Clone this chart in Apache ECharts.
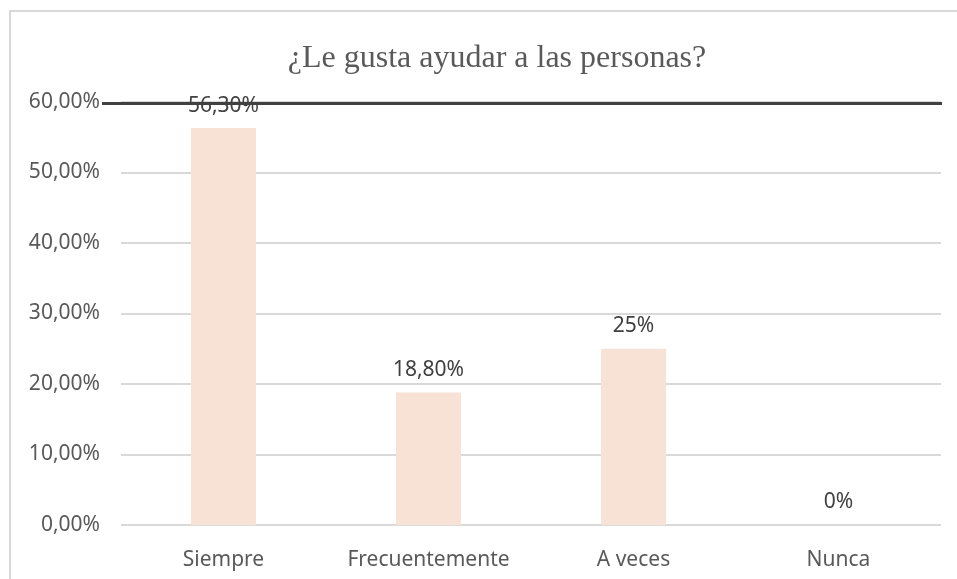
<!DOCTYPE html>
<html>
<head>
<meta charset="utf-8">
<script src="https://cdn.jsdelivr.net/npm/echarts@6/dist/echarts.min.js"></script>
<style>
  html, body { margin: 0; padding: 0; background: #fff; }
  #chart { width: 957px; height: 579px; }
</style>
</head>
<body>
<div id="chart"></div>
<script>
const categories = ["Siempre", "Frecuentemente", "A veces", "Nunca"];
const values = [0.563, 0.188, 0.25, 0];
const yTicks = { min: 0, max: 0.6, interval: 0.1 };

function pct(v) {
  const p = Math.round(v * 1000) / 10;
  if (Number.isInteger(p)) return p + "%";
  return p.toFixed(2).replace(".", ",") + "%";
}

const chart = echarts.init(document.getElementById("chart"), null, {
  renderer: "canvas",
});
const option = {
  animation: false,
  title: {
    text: "¿Le gusta ayudar a las personas?",
    left: 492,
    top: 38,
    textAlign: "center",
    textStyle: {
      fontFamily: "Liberation Serif",
      fontSize: 32,
      fontWeight: "normal",
      color: "#595959",
    },
  },
  grid: {
    left: 121,
    right: 16,
    top: 102,
    bottom: 54,
    containLabel: false,
    outerBoundsMode: "none",
  },
  xAxis: {
    type: "category",
    data: categories,
    axisLine: { show: false },
    axisTick: { show: false },
    axisLabel: {
      interval: 0,
      hideOverlap: false,
      margin: 25,
      fontFamily: "Noto Sans",
      fontSize: 21,
      color: "#595959",
    },
  },
  yAxis: {
    type: "value",
    min: yTicks.min,
    max: yTicks.max,
    interval: yTicks.interval,
    axisLabel: {
      margin: 21,
      fontFamily: "Noto Sans",
      fontSize: 21,
      color: "#595959",
      formatter: (v) => (v * 100).toFixed(2).replace(".", ",") + "%",
    },
    splitLine: { lineStyle: { color: "#d9d9d9", width: 2 } },
  },
  series: [
    {
      type: "bar",
      data: values,
      barWidth: 65,
      itemStyle: { color: "#f8e2d5" },
      label: {
        show: true,
        position: "top",
        distance: 12,
        fontFamily: "Noto Sans",
        fontSize: 21,
        color: "#404040",
        formatter: (p) => pct(p.value),
      },
    },
  ],
};
chart.setOption(option);

const yTop = chart.convertToPixel({ yAxisIndex: 0 }, yTicks.max) + 1.5;
chart.setOption({
  graphic: [
    {
      type: "rect",
      shape: { x: 10, y: 11, width: 2000, height: 2000 },
      style: { fill: null, stroke: "#d9d9d9", lineWidth: 2 },
      silent: true,
      z: 0,
    },
    {
      type: "line",
      shape: { x1: 102, y1: yTop, x2: 942, y2: yTop },
      style: { stroke: "#404040", lineWidth: 3 },
      silent: true,
      z: 100,
    },
  ],
});
</script>
</body>
</html>
